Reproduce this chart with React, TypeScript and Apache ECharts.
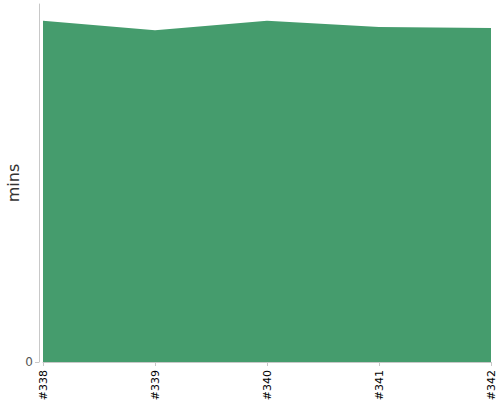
import { useEffect, useRef } from "react"
import * as echarts from "echarts"

const builds = ["#338", "#339", "#340", "#341", "#342"]
const durations = [95.3, 92.7, 95.3, 93.6, 93.3]
const yTicks = [0]

export default function App() {
  const chartRef = useRef<HTMLDivElement>(null)

  useEffect(() => {
    if (!chartRef.current) return
    document.body.style.margin = "0"
    const chart = echarts.init(chartRef.current, null, { renderer: "svg" })

    const option: echarts.EChartsOption = {
      animation: false,
      grid: { left: 43, right: 9, top: 4, bottom: 38, outerBoundsMode: "none", containLabel: false },
      xAxis: {
        type: "category",
        data: builds,
        boundaryGap: false,
        offset: 4,
        axisLine: { lineStyle: { color: "#c8c8c8" } },
        axisTick: { alignWithLabel: true, length: 4, lineStyle: { color: "#c8c8c8" } },
        axisLabel: {
          rotate: 90,
          color: "#000",
          fontSize: 11,
          fontFamily: "DejaVu Sans",
          margin: 4,
        },
      },
      yAxis: {
        type: "value",
        min: 0,
        max: 100,
        offset: 4,
        name: "mins",
        nameLocation: "middle",
        nameGap: 18,
        nameMoveOverlap: false,
        nameTextStyle: { color: "#333", fontSize: 16, fontFamily: "DejaVu Sans" },
        splitLine: { show: false },
        axisLine: { show: true, lineStyle: { color: "#c8c8c8" } },
        axisTick: { show: true, length: 4, customValues: yTicks, lineStyle: { color: "#c8c8c8" } },
        axisLabel: {
          customValues: yTicks,
          color: "#555",
          fontSize: 12,
          fontFamily: "DejaVu Sans",
          margin: 6,
        },
      },
      series: [
        {
          type: "line",
          data: durations,
          symbol: "none",
          lineStyle: { width: 0 },
          areaStyle: { color: "#459c6d", opacity: 1 },
        },
      ],
    }

    chart.setOption(option)
    return () => chart.dispose()
  }, [])

  return <div ref={chartRef} style={{ width: 500, height: 400 }} />
}
